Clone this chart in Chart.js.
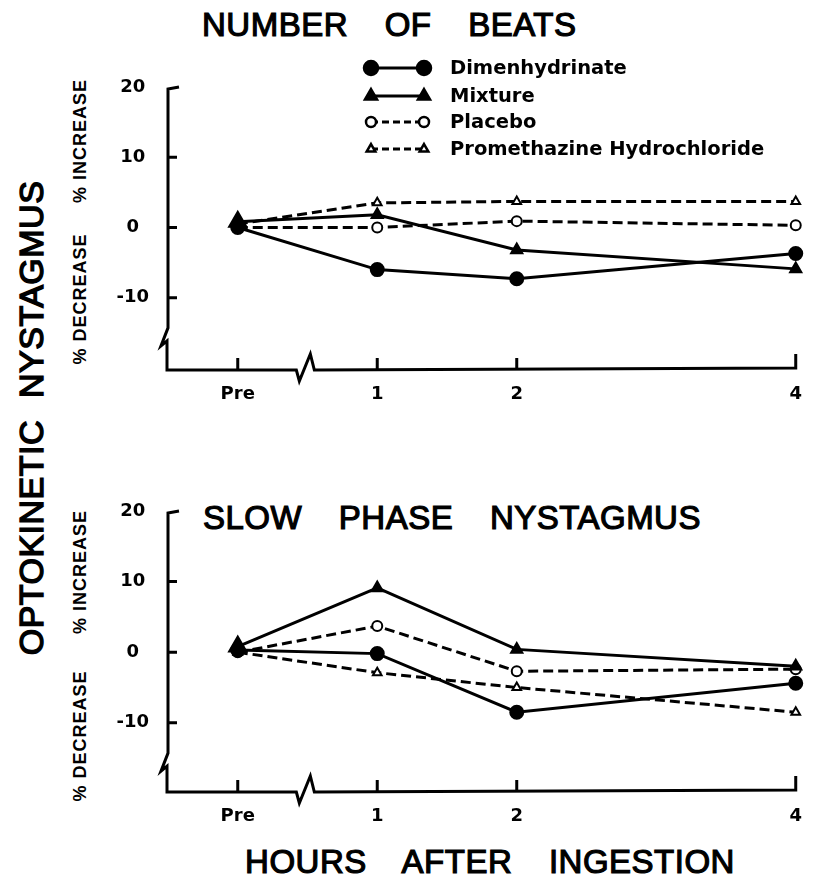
<!DOCTYPE html>
<html>
<head>
<meta charset="utf-8">
<script src="https://cdn.jsdelivr.net/npm/chart.js@4"></script>
<style>
body { margin: 0; background: #fff; width: 816px; height: 882px; position: relative; overflow: hidden; font-family: "Liberation Sans", Arial, sans-serif; color: #000; }
canvas { position: absolute; left: 0; }
.title { position: absolute; white-space: nowrap; font-size: 33px; letter-spacing: 0.5px; word-spacing: 27px; line-height: 1; -webkit-text-stroke: 1.2px #000; }
.vert { position: absolute; white-space: nowrap; line-height: 1; transform: translate(-50%, -50%) rotate(-90deg); }
.pct { font-family: "Liberation Sans Narrow", "Liberation Sans", sans-serif; font-weight: bold; font-size: 18px; letter-spacing: 1px; }
</style>
</head>
<body>
<div class="title" style="left:202px; top:8px;">NUMBER OF BEATS</div>
<div class="title" style="left:203px; top:501px;">SLOW PHASE NYSTAGMUS</div>
<div class="title" style="left:190px; width:600px; text-align:center; top:845px;">HOURS AFTER INGESTION</div>
<div class="vert" style="left:31px; top:418px; font-size:34px; -webkit-text-stroke:1.4px #000; letter-spacing:0.5px; word-spacing:12px;">OPTOKINETIC NYSTAGMUS</div>
<div class="vert pct" style="left:80px; top:141px;">% INCREASE</div>
<div class="vert pct" style="left:80px; top:299px;">% DECREASE</div>
<div class="vert pct" style="left:80px; top:572px;">% INCREASE</div>
<div class="vert pct" style="left:80px; top:736px;">% DECREASE</div>
<canvas id="beatsChart" width="816" height="441" style="top:0"></canvas>
<canvas id="slowChart" width="816" height="441" style="top:441px"></canvas>
<script>
// horas despues de la ingestion (Pre = 0)
const hours = [0, 1, 2, 4];
const hourLabels = ['Pre', '1', '2', '4'];
const yTicks = [-10, 0, 10, 20];
const drugNames = ['Dimenhydrinate', 'Mixture', 'Placebo', 'Promethazine Hydrochloride'];

// numero de latidos (% cambio)
const beatsDimen = [0, -6.0, -7.3, -3.7];
const beatsMixture = [0.8, 1.8, -3.2, -5.9];
const beatsPlacebo = [0, 0, 0.9, 0.3];
const beatsPrometh = [0.5, 3.5, 3.7, 3.7];

// nistagmo de fase lenta (% cambio)
const slowDimen = [0.3, -0.2, -8.5, -4.4];
const slowMixture = [0.8, 9.1, 0.4, -2.0];
const slowPlacebo = [0, 3.7, -2.7, -2.4];
const slowPrometh = [0, -2.9, -5.0, -8.5];

const boldFont = '"DejaVu Sans", Arial, sans-serif';

function styleFor(i) {
    const solid = i < 2;
    const tri = i === 1 || i === 3;
    return {
        borderColor: '#000',
        borderWidth: 3,
        borderDash: solid ? [] : [10, 5],
        pointStyle: tri ? 'triangle' : 'circle',
        pointRadius: ctx => (i === 1 && ctx.dataIndex === 0) ? 10 : (solid ? 6.5 : 5),
        pointBackgroundColor: solid ? '#000' : '#fff',
        pointBorderColor: '#000',
        pointBorderWidth: 2,
        fill: false,
        tension: 0,
        clip: false
    };
}

function makeDatasets(arrs) {
    // Mixture va al final para que su triangulo quede encima en Pre
    const order = [0, 2, 3, 1];
    return order.map(i => Object.assign({
        label: drugNames[i],
        data: hours.map((h, k) => ({ x: h, y: arrs[i][k] })),
        order: i === 1 ? 0 : 1
    }, styleFor(i)));
}

// ejes dibujados a mano con las rupturas
const axesPlugin = {
    id: 'brokenAxes',
    beforeDatasetsDraw(chart) {
        const ctx = chart.ctx;
        const { left, right, top, bottom } = chart.chartArea;
        const xs = chart.scales.x, ys = chart.scales.y;
        const yb = ys.getPixelForValue(-14.3);
        const xb = xs.getPixelForValue(0.42);
        ctx.save();
        ctx.strokeStyle = '#000';
        ctx.lineWidth = 3;
        ctx.beginPath();
        ctx.moveTo(left + 11, top);
        ctx.lineTo(left, top + 2);
        ctx.lineTo(left, yb);
        ctx.lineTo(left - 7, yb + 18);
        ctx.lineTo(left - 1, yb + 13);
        ctx.lineTo(left - 1, bottom);
        ctx.lineTo(xb, bottom);
        ctx.lineTo(xb + 3, bottom + 11);
        ctx.lineTo(xb + 14, bottom - 16);
        ctx.lineTo(xb + 18, bottom);
        ctx.lineTo(right, bottom - 2);
        ctx.lineTo(right, bottom - 16);
        ctx.stroke();
        ctx.beginPath();
        [-10, 0, 10].forEach(v => {
            const p = ys.getPixelForValue(v);
            ctx.moveTo(left, p);
            ctx.lineTo(left + 9, p);
        });
        [0, 1, 2].forEach(v => {
            const p = xs.getPixelForValue(v);
            ctx.moveTo(p, bottom);
            ctx.lineTo(p, bottom - 12);
        });
        ctx.stroke();
        ctx.restore();
    }
};

const legendPlugin = {
    id: 'lineLegend',
    afterDraw(chart) {
        if (chart.canvas.id !== 'beatsChart') return;
        const ctx = chart.ctx;
        const rows = [68, 96, 122, 149];
        drugNames.forEach((name, i) => {
            const s = styleFor(i);
            const y = rows[i];
            ctx.save();
            ctx.strokeStyle = '#000';
            ctx.lineWidth = 3;
            ctx.setLineDash(i < 2 ? [] : [7, 4]);
            ctx.beginPath();
            ctx.moveTo(371, y);
            ctx.lineTo(424, y);
            ctx.stroke();
            ctx.setLineDash([]);
            ctx.fillStyle = s.pointBackgroundColor;
            ctx.lineWidth = 2.5;
            [371, 424].forEach(px => {
                Chart.helpers.drawPoint(ctx, { pointStyle: s.pointStyle, radius: i < 2 ? 7 : 5, rotation: 0, borderWidth: 2.5 }, px, y);
            });
            ctx.fillStyle = '#000';
            ctx.font = 'bold 19.5px ' + boldFont;
            ctx.textBaseline = 'middle';
            ctx.fillText(name, 450, y + 1);
            ctx.restore();
        });
    }
};

function buildChart(id, arrs, yMin, padTop, padBottom) {
    return new Chart(document.getElementById(id).getContext('2d'), {
        type: 'line',
        data: { datasets: makeDatasets(arrs) },
        options: {
            responsive: false,
            animation: false,
            layout: { padding: { left: 108, right: 11, top: padTop, bottom: padBottom } },
            plugins: { legend: { display: false }, tooltip: { enabled: false } },
            scales: {
                x: {
                    type: 'linear',
                    min: -0.5,
                    max: 4.0,
                    afterBuildTicks: s => { s.ticks = hours.map(v => ({ value: v })); },
                    afterFit: s => { s.height = 40; },
                    grid: { display: false, drawTicks: false },
                    border: { display: false },
                    ticks: {
                        color: '#000',
                        font: { family: boldFont, size: 18, weight: 'bold' },
                        padding: 14,
                        maxRotation: 0,
                        callback: v => hourLabels[hours.indexOf(v)]
                    }
                },
                y: {
                    min: yMin,
                    max: 20,
                    afterBuildTicks: s => { s.ticks = yTicks.map(v => ({ value: v })); },
                    afterFit: s => { s.width = 60; },
                    grid: { display: false, drawTicks: false },
                    border: { display: false },
                    ticks: {
                        color: '#000',
                        font: { family: boldFont, size: 18, weight: 'bold' },
                        padding: 19,
                        crossAlign: 'center'
                    }
                }
            }
        },
        plugins: [axesPlugin, legendPlugin]
    });
}

buildChart('beatsChart', [beatsDimen, beatsMixture, beatsPlacebo, beatsPrometh], -20.3, 87, 31);
buildChart('slowChart', [slowDimen, slowMixture, slowPlacebo, slowPrometh], -19.8, 70, 50);
</script>
</body>
</html>
